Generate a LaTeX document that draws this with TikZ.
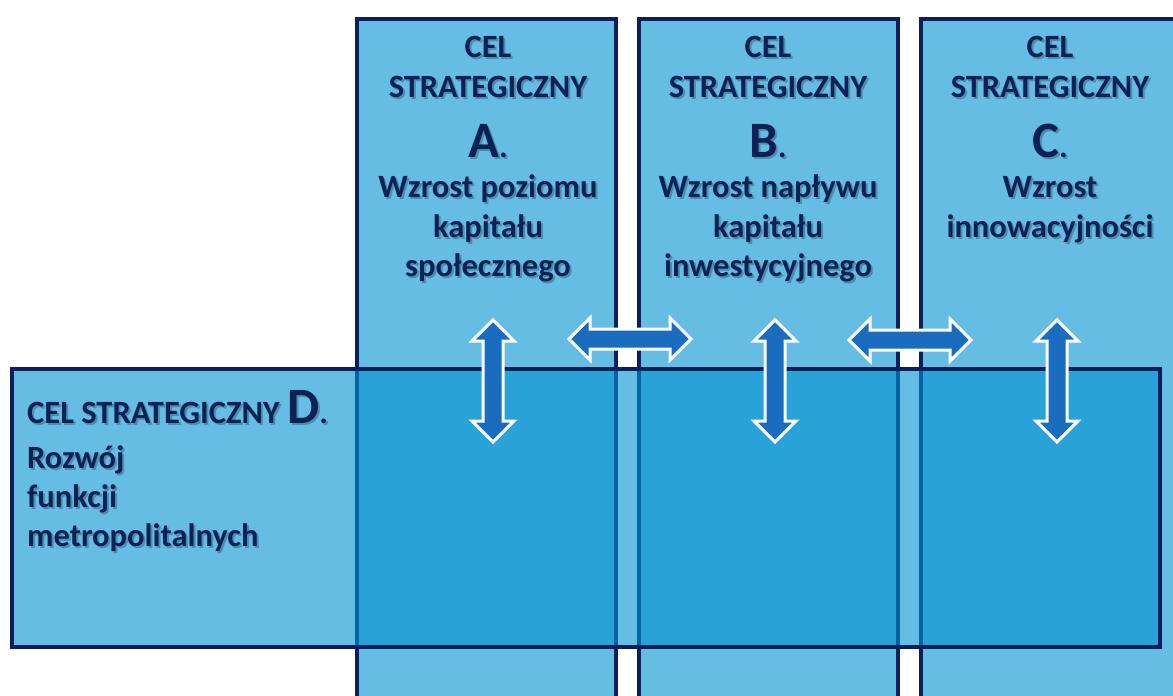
\documentclass[tikz,border=0pt]{standalone}
\usepackage{fontspec}
\setmainfont{Carlito}
\usepackage{tikz}
\usetikzlibrary{shadows}
\definecolor{colfill}{RGB}{102,189,227}
\definecolor{navy}{RGB}{12,30,92}
\definecolor{dfill}{RGB}{0,145,208}
\definecolor{txtnavy}{RGB}{13,33,88}
\definecolor{arrblue}{RGB}{26,108,190}
\tikzset{goalcol/.style={draw=navy, fill=colfill, line width=4pt}}
\tikzset{goalrow/.style={draw=navy, fill=dfill, fill opacity=0.6, line width=4pt}}
\tikzset{txt/.style={text=txtnavy, inner sep=0pt, font=\bfseries\fontsize{32.5}{38}\selectfont}}
\tikzset{txtshade/.style={txt, text=black, text opacity=0.25, xshift=2pt, yshift=-2pt}}
\tikzset{arrowshape/.style={fill=arrblue, draw=white, line width=3pt, line join=miter}}
\tikzset{dblarrow/.pic={
    \draw[arrowshape] (-61,0) -- (-40,-21) -- (-40,-10) -- (40,-10) -- (40,-21)
      -- (61,0) -- (40,21) -- (40,10) -- (-40,10) -- (-40,21) -- cycle;
}}
\newcommand{\biglet}[1]{{\fontsize{51}{54}\selectfont #1}}
\newcommand{\goalline}[4]{%
    \node[txtshade,#2] at (#1) {#3};
    \node[txt,#2] (#4) at (#1) {#3};
}

\begin{document}
\begin{tikzpicture}[x=1pt,y=-1pt]
    \useasboundingbox (0,0) rectangle (1173,696);
    \clip (0,0) rectangle (1173,696);

    % columns
    \draw[goalcol] (357,19) rectangle (616,720);
    \draw[goalcol] (639,19) rectangle (898,720);
    \draw[goalcol] (921,19) rectangle (1180,720);

    % row D
    \draw[goalrow] (12,369) rectangle (1160,647);

    % goal A
    \goalline{488,57}{anchor=base}{CEL}{a1}
    \goalline{488,97}{anchor=base}{STRATEGICZNY}{a2}
    \goalline{488,157}{anchor=base}{\biglet{A}.}{a3}
    \goalline{488,197}{anchor=base}{Wzrost poziomu}{a4}
    \goalline{488,237}{anchor=base}{kapitału}{a5}
    \goalline{488,276}{anchor=base}{społecznego}{a6}

    % goal B
    \goalline{768,57}{anchor=base}{CEL}{b1}
    \goalline{768,97}{anchor=base}{STRATEGICZNY}{b2}
    \goalline{768,157}{anchor=base}{\biglet{B}.}{b3}
    \goalline{768,197}{anchor=base}{Wzrost napływu}{b4}
    \goalline{768,237}{anchor=base}{kapitału}{b5}
    \goalline{768,276}{anchor=base}{inwestycyjnego}{b6}

    % goal C
    \goalline{1050,57}{anchor=base}{CEL}{c1}
    \goalline{1050,97}{anchor=base}{STRATEGICZNY}{c2}
    \goalline{1050,157}{anchor=base}{\biglet{C}.}{c3}
    \goalline{1050,197}{anchor=base}{Wzrost}{c4}
    \goalline{1050,237}{anchor=base}{innowacyjności}{c5}

    % goal D
    \goalline{27,423}{anchor=base west}{CEL STRATEGICZNY \biglet{D}.}{d1}
    \goalline{27,468}{anchor=base west}{Rozwój}{d2}
    \goalline{27,507}{anchor=base west}{funkcji}{d3}
    \goalline{27,546}{anchor=base west}{metropolitalnych}{d4}

    % arrows
    \pic[rotate=90] (arrA) at (493,381) {dblarrow};
    \pic[rotate=90] (arrB) at (775,381) {dblarrow};
    \pic[rotate=90] (arrC) at (1057,381) {dblarrow};
    \pic (arrAB) at (630,339) {dblarrow};
    \pic (arrBC) at (910,340) {dblarrow};
\end{tikzpicture}
\end{document}
